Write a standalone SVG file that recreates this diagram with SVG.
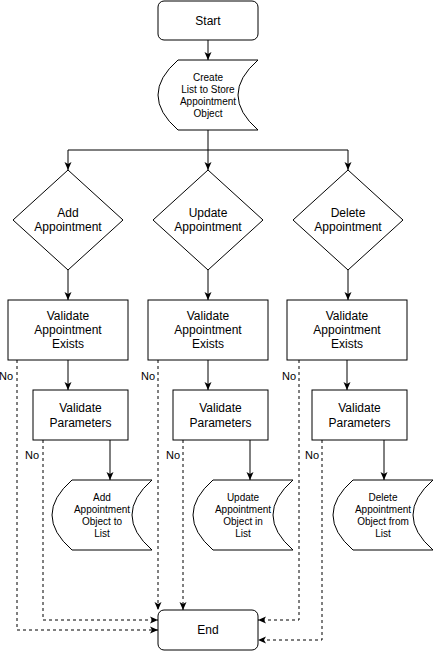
<svg xmlns="http://www.w3.org/2000/svg" width="436" height="651" viewBox="0 0 436 651">
<style>
.s{fill:#fff;stroke:#000;stroke-width:1}
.t{font-family:"Liberation Sans",Arial,sans-serif;font-size:12px;fill:#000;text-anchor:middle}
.ts{font-family:"Liberation Sans",Arial,sans-serif;font-size:10px;fill:#000;text-anchor:middle}
.lbl{font-family:"Liberation Sans",Arial,sans-serif;font-size:11px;fill:#000;text-anchor:end}
.e{fill:none;stroke:#000;stroke-width:1}
.d{fill:none;stroke:#000;stroke-width:1;stroke-dasharray:3 3}
</style>
<defs>
<marker id="ah" markerUnits="userSpaceOnUse" markerWidth="8" markerHeight="8" refX="8" refY="4" orient="auto" viewBox="0 0 8 8">
<path d="M0,0.5 L8,4 L0,7.5 L2,4 Z" fill="#000"/>
</marker>
</defs>
<rect width="436" height="651" fill="#fff"/>
<g id="connectors">
<path class="e" d="M208,40 V60" marker-end="url(#ah)"/>
<path class="e" d="M208,130 V150 M68,150 H348"/>
<path class="e" d="M68,150 V170" marker-end="url(#ah)"/>
<path class="e" d="M208,150 V170" marker-end="url(#ah)"/>
<path class="e" d="M348,150 V170" marker-end="url(#ah)"/>
<path class="e" d="M68,270 V300" marker-end="url(#ah)"/>
<path class="e" d="M208,270 V300" marker-end="url(#ah)"/>
<path class="e" d="M348,270 V300" marker-end="url(#ah)"/>
<path class="e" d="M68,360 V390" marker-end="url(#ah)"/>
<path class="e" d="M208,360 V390" marker-end="url(#ah)"/>
<path class="e" d="M347,360 V390" marker-end="url(#ah)"/>
<path class="e" d="M110,440 V480" marker-end="url(#ah)"/>
<path class="e" d="M250,440 V480" marker-end="url(#ah)"/>
<path class="e" d="M384,440 V480" marker-end="url(#ah)"/>
<path class="d" d="M17,360 V630 H158" marker-end="url(#ah)"/>
<path class="d" d="M43,440 V620 H158" marker-end="url(#ah)"/>
<path class="d" d="M158,360 V610" marker-end="url(#ah)"/>
<path class="d" d="M183,440 V610" marker-end="url(#ah)"/>
<path class="d" d="M299,360 V620 H258" marker-end="url(#ah)"/>
<path class="d" d="M322,440 V640 H258" marker-end="url(#ah)"/>
<text class="lbl" x="13" y="380">No</text>
<text class="lbl" x="39" y="459">No</text>
<text class="lbl" x="155" y="380">No</text>
<text class="lbl" x="180" y="459">No</text>
<text class="lbl" x="296" y="380">No</text>
<text class="lbl" x="319" y="459">No</text>
</g>
<g id="start">
<rect class="s" x="158" y="1" width="100" height="39" rx="6"/>
<text class="t" x="208" y="25">Start</text>
</g>
<g id="create-list">
<path class="s" d="M178,60 H258 Q218,95 258,130 H178 Q138,95 178,60 Z"/>
<text class="ts" x="208" y="81">Create</text>
<text class="ts" x="208" y="93">List to Store</text>
<text class="ts" x="208" y="105">Appointment</text>
<text class="ts" x="208" y="117">Object</text>
</g>
<g id="add-appointment">
<path class="s" d="M68,170 L123,220 L68,270 L13,220 Z"/>
<text class="t" x="68" y="217">Add</text>
<text class="t" x="68" y="231">Appointment</text>
</g>
<g id="update-appointment">
<path class="s" d="M208,170 L263,220 L208,270 L153,220 Z"/>
<text class="t" x="208" y="217">Update</text>
<text class="t" x="208" y="231">Appointment</text>
</g>
<g id="delete-appointment">
<path class="s" d="M348,170 L403,220 L348,270 L293,220 Z"/>
<text class="t" x="348" y="217">Delete</text>
<text class="t" x="348" y="231">Appointment</text>
</g>
<g id="add-validate-exists">
<rect class="s" x="8" y="300" width="120" height="60"/>
<text class="t" x="68" y="320">Validate</text>
<text class="t" x="68" y="334">Appointment</text>
<text class="t" x="68" y="348">Exists</text>
</g>
<g id="update-validate-exists">
<rect class="s" x="148" y="300" width="120" height="60"/>
<text class="t" x="208" y="320">Validate</text>
<text class="t" x="208" y="334">Appointment</text>
<text class="t" x="208" y="348">Exists</text>
</g>
<g id="delete-validate-exists">
<rect class="s" x="287" y="300" width="120" height="60"/>
<text class="t" x="347" y="320">Validate</text>
<text class="t" x="347" y="334">Appointment</text>
<text class="t" x="347" y="348">Exists</text>
</g>
<g id="add-validate-params">
<rect class="s" x="33" y="390" width="95" height="50"/>
<text class="t" x="80.5" y="412">Validate</text>
<text class="t" x="80.5" y="427">Parameters</text>
</g>
<g id="update-validate-params">
<rect class="s" x="173" y="390" width="95" height="50"/>
<text class="t" x="220.5" y="412">Validate</text>
<text class="t" x="220.5" y="427">Parameters</text>
</g>
<g id="delete-validate-params">
<rect class="s" x="312" y="390" width="95" height="50"/>
<text class="t" x="359.5" y="412">Validate</text>
<text class="t" x="359.5" y="427">Parameters</text>
</g>
<g id="add-object">
<path class="s" d="M72,480 H152 Q112,515 152,550 H72 Q32,515 72,480 Z"/>
<text class="ts" x="102" y="501">Add</text>
<text class="ts" x="102" y="513">Appointment</text>
<text class="ts" x="102" y="525">Object to</text>
<text class="ts" x="102" y="537">List</text>
</g>
<g id="update-object">
<path class="s" d="M213,480 H293 Q253,515 293,550 H213 Q173,515 213,480 Z"/>
<text class="ts" x="243" y="501">Update</text>
<text class="ts" x="243" y="513">Appointment</text>
<text class="ts" x="243" y="525">Object in</text>
<text class="ts" x="243" y="537">List</text>
</g>
<g id="delete-object">
<path class="s" d="M353,480 H433 Q393,515 433,550 H353 Q313,515 353,480 Z"/>
<text class="ts" x="383" y="501">Delete</text>
<text class="ts" x="383" y="513">Appointment</text>
<text class="ts" x="383" y="525">Object from</text>
<text class="ts" x="383" y="537">List</text>
</g>
<g id="end">
<rect class="s" x="158" y="610" width="100" height="40" rx="6"/>
<text class="t" x="208" y="634">End</text>
</g>
</svg>
